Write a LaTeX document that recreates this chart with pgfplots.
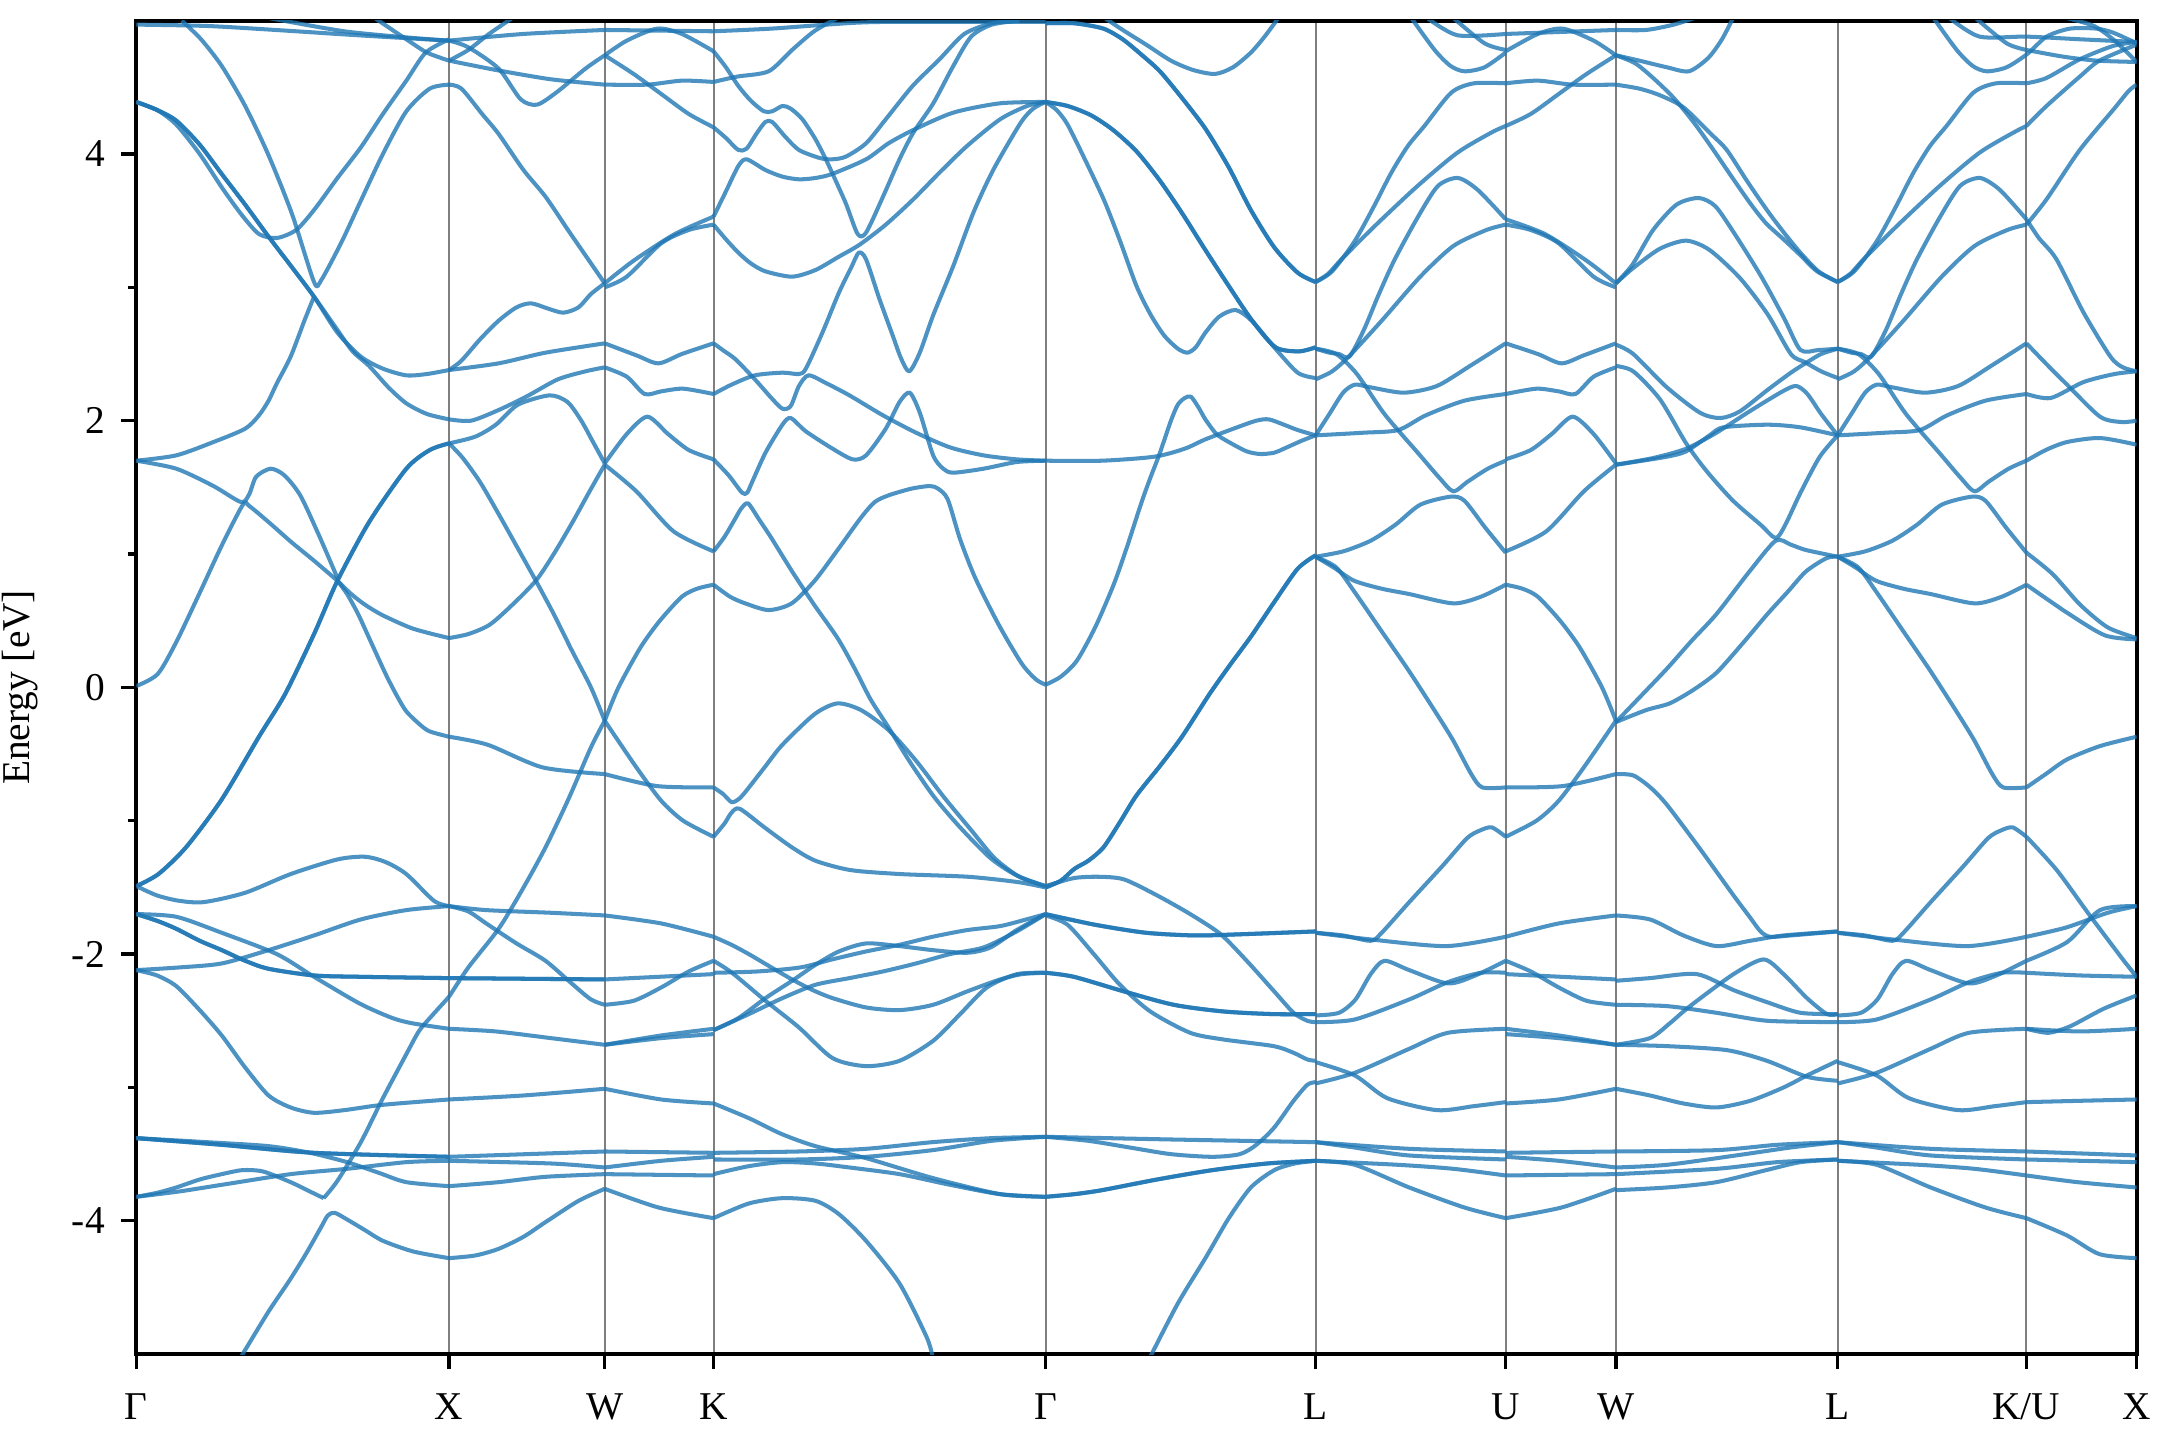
\documentclass[border=0pt]{standalone}
\usepackage{pgfplots}
\pgfplotsset{compat=1.18}
\usepackage{fontspec}
\setmainfont{Liberation Serif}
\definecolor{tabblue}{RGB}{31,119,180}
\pgfplotsset{band/.style={tabblue, opacity=0.8, line width=0.85pt, smooth, tension=0.45, mark=none, line join=round}}
\begin{document}
\begin{tikzpicture}
\begin{axis}[name=ax, scale only axis, width=14.82cm, height=9.88cm,
  xmin=99, xmax=1551, ymin=-5, ymax=5,
  xtick={99,326,439,518,759,955,1093,1173,1334,1471,1551},
  xticklabels={Γ,X,W,K,Γ,L,U,W,L,K/U,X},
  ytick={-4,-2,0,2,4}, yticklabels={-4,-2,0,2,4},
  minor ytick={-3,-1,1,3},
  xmajorgrids, major grid style={black, opacity=0.5, line width=0.4pt},
  tick align=outside, tick pos=left,
  major tick length=0.11cm, minor tick length=0.065cm,
  every tick/.style={black, line width=0.7pt},
  axis line style={line width=0.85pt},
  tick label style={font=\fontsize{8.3}{10}\selectfont},
  xticklabel style={yshift=-0.06cm},
  ylabel={Energy [eV]},
  ylabel style={font=\fontsize{8.3}{10}\selectfont, at={(axis description cs:-0.058,0.5)}, anchor=center, rotate=0},
  clip=true]
% ---------------- Gamma - X ----------------
\addplot[band] coordinates {(99,4.97) (150,4.96) (200,4.93) (260,4.89) (326,4.85)};
\addplot[band] coordinates {(195,5.02) (250,4.92) (300,4.87) (326,4.85)};
\addplot[band] coordinates {(272,5.02) (295,4.86) (310,4.76) (326,4.70)};
\addplot[band] coordinates {(132,5.0) (146,4.86) (161,4.66) (178,4.36) (195,3.99) (212,3.55) (228,3.04) (233,3.05) (248,3.34) (262,3.65) (278,4.0) (295,4.32) (312,4.49) (326,4.52)};
\addplot[band] coordinates {(99,4.39) (114,4.33) (128,4.22) (145,4.0) (161,3.75) (175,3.55) (188,3.40) (201,3.37) (215,3.43) (228,3.58) (245,3.82) (262,4.05) (278,4.30) (295,4.55) (309,4.76) (326,4.86)};
\addplot[band] coordinates {(99,4.39) (114,4.33) (128,4.25) (145,4.07) (161,3.85) (178,3.62) (195,3.38) (212,3.15) (228,2.93) (245,2.66) (262,2.48) (278,2.39) (295,2.34) (310,2.35) (326,2.38)};
\addplot[band] coordinates {(99,4.39) (114,4.33) (128,4.25) (145,4.07) (161,3.85) (178,3.62) (195,3.38) (212,3.15) (228,2.93) (245,2.68) (256,2.52) (268,2.41) (282,2.25) (295,2.13) (310,2.05) (326,2.01)};
\addplot[band] coordinates {(99,1.70) (128,1.74) (155,1.84) (178,1.94) (188,2.04) (195,2.15) (201,2.28) (211,2.48) (221,2.75) (228,2.93)};
\addplot[band] coordinates {(99,1.70) (128,1.64) (155,1.51) (175,1.39) (181,1.45) (186,1.58) (196.5,1.64) (206.5,1.59) (218,1.44) (231.6,1.14) (245,0.82)};
\addplot[band] coordinates {(99,0.01) (114.5,0.10) (128,0.34) (144.6,0.70) (161.3,1.07) (176.4,1.37) (181,1.36) (195,1.24) (211.5,1.09) (228,0.95) (245,0.80)};
\addplot[band] coordinates {(99,-1.49) (115,-1.40) (135,-1.20) (161,-0.84) (188,-0.37) (207,-0.05) (228,0.40) (245,0.80) (268,1.24) (295,1.64) (312,1.78) (326,1.83)};
\addplot[band] coordinates {(99,-1.49) (115,-1.40) (135,-1.20) (161,-0.84) (188,-0.37) (207,-0.05) (228,0.40) (245,0.80) (268,1.24) (295,1.64) (312,1.78) (326,1.83)};
\addplot[band] coordinates {(245,0.80) (252,0.70) (260,0.55) (268,0.37) (280,0.10) (288,-0.06) (295,-0.18) (305,-0.28) (312,-0.33) (326,-0.37)};
\addplot[band] coordinates {(245,0.80) (255,0.70) (265,0.62) (278,0.54) (300,0.44) (326,0.37)};
\addplot[band] coordinates {(99,-1.49) (114,-1.56) (130,-1.60) (148,-1.61) (178,-1.54) (211,-1.40) (245,-1.29) (265,-1.27) (280,-1.31) (295,-1.40) (315,-1.60) (326,-1.64)};
\addplot[band] coordinates {(99,-2.12) (130,-2.10) (161,-2.07) (195,-1.97) (228,-1.86) (262,-1.74) (295,-1.67) (326,-1.64)};
\addplot[band] coordinates {(99,-1.70) (114,-1.75) (128,-1.81) (145,-1.90) (161,-1.97) (178,-2.05) (195,-2.11) (228,-2.16) (261,-2.17) (326,-2.18)};
\addplot[band] coordinates {(99,-1.70) (114,-1.75) (128,-1.81) (145,-1.90) (161,-1.97) (178,-2.05) (195,-2.11) (228,-2.16) (261,-2.17) (326,-2.18)};
\addplot[band] coordinates {(99,-1.70) (128,-1.72) (161,-1.84) (201,-2.00) (228,-2.17) (261,-2.37) (285,-2.48) (300,-2.52) (326,-2.56)};
\addplot[band] coordinates {(99,-2.12) (114,-2.16) (128,-2.24) (145,-2.42) (161,-2.61) (178,-2.85) (195,-3.06) (211,-3.15) (228,-3.19) (250,-3.17) (278,-3.13) (326,-3.09)};
\addplot[band] coordinates {(235,-3.83) (245,-3.70) (262,-3.41) (278,-3.08) (295,-2.75) (304,-2.58) (312,-2.48) (326,-2.32)};
\addplot[band] coordinates {(175,-5.02) (195,-4.68) (210,-4.45) (222,-4.25) (233,-4.05) (238,-3.96) (243,-3.94) (252,-3.99) (265,-4.07) (278,-4.15) (300,-4.23) (326,-4.28)};
\addplot[band] coordinates {(99,-3.82) (114,-3.79) (128,-3.75) (145,-3.69) (161,-3.65) (176,-3.62) (191,-3.63) (211,-3.71) (225,-3.78) (235,-3.83)};
\addplot[band] coordinates {(99,-3.82) (130,-3.78) (161,-3.73) (211,-3.65) (252,-3.61) (295,-3.56) (326,-3.55)};
\addplot[band] coordinates {(99,-3.38) (161,-3.43) (228,-3.49) (326,-3.52)};
\addplot[band] coordinates {(99,-3.38) (161,-3.43) (228,-3.49) (326,-3.52)};
\addplot[band] coordinates {(99,-3.38) (150,-3.41) (195,-3.44) (225,-3.49) (252,-3.56) (275,-3.64) (295,-3.71) (326,-3.74)};
% ---------------- X - W ----------------
\addplot[band] coordinates {(326,4.70) (340,4.78) (355,4.90) (372,5.02)};
\addplot[band] coordinates {(326,4.85) (340,4.80) (362,4.64) (378,4.41) (390,4.37) (405,4.47) (425,4.64) (439,4.74)};
\addplot[band] coordinates {(326,4.70) (360,4.63) (400,4.56) (439,4.52)};
\addplot[band] coordinates {(326,4.85) (380,4.90) (439,4.93)};
\addplot[band] coordinates {(326,4.52) (335,4.49) (350,4.30) (362,4.15) (380,3.88) (396,3.68) (413,3.42) (429,3.18) (439,3.03)};
\addplot[band] coordinates {(326,2.38) (362,2.43) (396,2.51) (439,2.58)};
\addplot[band] coordinates {(326,2.38) (335,2.45) (348.5,2.61) (362,2.75) (375,2.85) (385.5,2.88) (398,2.84) (409,2.81) (420,2.85) (429,2.95) (439,3.03)};
\addplot[band] coordinates {(326,2.01) (342,2.00) (362,2.08) (382,2.18) (405,2.31) (425,2.37) (439,2.40)};
\addplot[band] coordinates {(326,1.83) (345,1.88) (360,1.97) (376,2.12) (399,2.19) (412,2.14) (422,2.00) (430,1.85) (439,1.68)};
\addplot[band] coordinates {(326,0.37) (340,0.40) (355.5,0.47) (372,0.62) (389,0.80) (402,1.0) (415.7,1.24) (428,1.47) (439,1.67)};
\addplot[band] coordinates {(326,1.83) (336,1.72) (348.5,1.54) (362,1.30) (375,1.06) (389,0.80) (402,0.55) (415,0.28) (429,0.0) (439,-0.25)};
\addplot[band] coordinates {(326,-0.37) (354,-0.43) (394,-0.60) (439,-0.65)};
\addplot[band] coordinates {(326,-1.64) (353,-1.67) (400,-1.69) (439,-1.71)};
\addplot[band] coordinates {(326,-1.64) (340,-1.68) (353,-1.77) (375,-1.92) (396,-2.05) (415,-2.22) (429,-2.34) (439,-2.38)};
\addplot[band] coordinates {(326,-2.18) (439,-2.19)};
\addplot[band] coordinates {(326,-2.18) (439,-2.19)};
\addplot[band] coordinates {(326,-2.32) (340,-2.10) (362,-1.81) (379,-1.52) (396,-1.20) (413,-0.83) (429,-0.45) (439,-0.25)};
\addplot[band] coordinates {(326,-2.56) (360,-2.58) (400,-2.63) (439,-2.68)};
\addplot[band] coordinates {(326,-3.09) (380,-3.06) (439,-3.01)};
\addplot[band] coordinates {(326,-3.52) (439,-3.48)};
\addplot[band] coordinates {(326,-3.55) (400,-3.57) (439,-3.60)};
\addplot[band] coordinates {(326,-3.74) (362,-3.71) (396,-3.67) (439,-3.65)};
\addplot[band] coordinates {(326,-4.28) (345,-4.26) (362,-4.21) (380,-4.12) (396,-4.01) (420,-3.85) (439,-3.76)};
% ---------------- W - K ----------------
\addplot[band] coordinates {(439,4.74) (455,4.85) (477,4.94) (495,4.90) (518,4.77)};
\addplot[band] coordinates {(439,4.52) (470,4.52) (495,4.55) (518,4.54)};
\addplot[band] coordinates {(439,4.74) (460,4.60) (480,4.45) (500,4.30) (518,4.20)};
\addplot[band] coordinates {(439,4.93) (518,4.92)};
\addplot[band] coordinates {(439,3.03) (460,3.20) (490,3.40) (518,3.53)};
\addplot[band] coordinates {(439,3.00) (455,3.08) (480,3.33) (500,3.43) (518,3.47)};
\addplot[band] coordinates {(439,2.58) (462,2.49) (478,2.43) (495,2.50) (518,2.58)};
\addplot[band] coordinates {(439,2.40) (455,2.33) (468,2.20) (480,2.22) (496,2.24) (518,2.20)};
\addplot[band] coordinates {(439,1.68) (455,1.90) (470,2.03) (485,1.90) (500,1.78) (518,1.71)};
\addplot[band] coordinates {(439,1.67) (462,1.47) (489,1.17) (518,1.02)};
\addplot[band] coordinates {(439,-0.25) (449,0.0) (465,0.30) (479,0.50) (495,0.68) (506,0.74) (518,0.77)};
\addplot[band] coordinates {(439,-0.25) (462,-0.60) (480,-0.85) (496,-1.0) (518,-1.12)};
\addplot[band] coordinates {(439,-0.65) (477,-0.74) (518,-0.75)};
\addplot[band] coordinates {(439,-1.71) (480,-1.77) (518,-1.87)};
\addplot[band] coordinates {(439,-2.38) (460,-2.35) (480,-2.25) (500,-2.13) (518,-2.05)};
\addplot[band] coordinates {(439,-2.19) (518,-2.15)};
\addplot[band] coordinates {(439,-2.68) (480,-2.61) (518,-2.56)};
\addplot[band] coordinates {(439,-2.68) (480,-2.63) (518,-2.60)};
\addplot[band] coordinates {(439,-3.01) (480,-3.09) (518,-3.12)};
\addplot[band] coordinates {(439,-3.48) (518,-3.49)};
\addplot[band] coordinates {(439,-3.60) (480,-3.55) (518,-3.52)};
\addplot[band] coordinates {(439,-3.65) (518,-3.66)};
\addplot[band] coordinates {(439,-3.76) (478,-3.90) (518,-3.98)};
% ---------------- K - Gamma ----------------
\addplot[band] coordinates {(518,4.92) (560,4.94) (600,4.97) (640,4.99) (759,4.99)};
\addplot[band] coordinates {(518,4.77) (527,4.65) (536,4.51) (545,4.40) (554.5,4.32) (560.6,4.32) (568,4.36) (574,4.34) (582.5,4.26) (592,4.11) (599.5,3.96) (604,3.86) (614,3.63) (622.6,3.40) (628.7,3.41) (641,3.68) (653,3.96) (663,4.16) (677.5,4.38) (692,4.66) (705,4.88) (720,4.97) (740,5.0)};
\addplot[band] coordinates {(518,4.54) (535,4.58) (558,4.62) (575,4.78) (591,4.92) (608,5.02)};
\addplot[band] coordinates {(518,4.20) (527,4.12) (536,4.03) (542,4.04) (549,4.15) (555.6,4.24) (560.6,4.24) (570,4.13) (580,4.03) (595,3.97) (604,3.96) (614,3.98) (628.7,4.08) (643,4.26) (662.5,4.51) (682,4.71) (700,4.90) (720,4.98) (740,5.0)};
\addplot[band] coordinates {(518,3.53) (527,3.72) (536,3.91) (542,3.96) (555.6,3.88) (568,3.83) (580,3.81) (592,3.82) (604,3.85) (628.7,3.96) (645,4.08) (663,4.18) (692,4.31) (726,4.38) (759,4.39)};
\addplot[band] coordinates {(518,3.47) (527,3.36) (536,3.26) (545,3.18) (555.6,3.12) (575,3.08) (592,3.13) (609,3.23) (624,3.32) (643,3.47) (663,3.66) (682,3.86) (702,4.06) (726,4.26) (745.6,4.36) (759,4.39)};
\addplot[band] coordinates {(518,2.58) (526,2.52) (534,2.46) (548,2.31) (560,2.17) (568,2.09) (574,2.11) (580,2.26) (587,2.34) (600,2.28) (616.6,2.19) (641,2.04) (665,1.91) (689.6,1.80) (714,1.74) (738,1.71) (759,1.70)};
\addplot[band] coordinates {(518,2.20) (531,2.27) (548,2.34) (568,2.36) (580,2.35) (585,2.39) (597,2.66) (609,2.96) (618,3.15) (623.4,3.26) (628.7,3.21) (638.5,2.91) (648,2.64) (654,2.47) (660,2.37) (667.7,2.51) (677.4,2.79) (692,3.16) (706.6,3.56) (721,3.88) (740.7,4.23) (750,4.34) (759,4.39)};
\addplot[band] coordinates {(518,1.71) (529,1.59) (538.7,1.46) (542.4,1.46) (546,1.54) (555.7,1.76) (568,1.97) (574,2.02) (585,1.92) (604.4,1.79) (619,1.71) (628.7,1.74) (643,1.94) (653,2.14) (660.4,2.21) (667.7,2.06) (677.4,1.74) (684.7,1.64) (692,1.61) (714,1.64) (738,1.69) (759,1.70)};
\addplot[band] coordinates {(518,1.02) (526,1.13) (534,1.27) (538,1.34) (543,1.38) (551,1.26) (560,1.12) (575,0.87) (591,0.62) (608,0.37) (620,0.15) (632,-0.09) (645,-0.30) (660,-0.55) (678,-0.82) (697,-1.05) (719,-1.28) (738,-1.41) (759,-1.49)};
\addplot[band] coordinates {(518,0.77) (530,0.68) (541,0.63) (558,0.58) (574.7,0.63) (591.4,0.80) (608,1.03) (624.8,1.27) (635,1.39) (645,1.44) (661.5,1.49) (675,1.51) (681,1.49) (688,1.41) (697,1.11) (708,0.82) (725,0.47) (741.6,0.18) (752,0.06) (759,0.02)};
\addplot[band] coordinates {(518,-0.75) (525,-0.80) (531,-0.86) (536,-0.84) (541.4,-0.78) (555,-0.60) (568,-0.43) (591.4,-0.20) (608,-0.12) (625,-0.17) (645,-0.32) (665,-0.55) (685,-0.82) (705,-1.07) (722,-1.28) (740,-1.42) (759,-1.49)};
\addplot[band] coordinates {(518,-1.12) (526,-1.02) (531,-0.94) (537,-0.91) (555,-1.05) (575,-1.20) (592,-1.30) (617.5,-1.37) (654,-1.40) (702.7,-1.42) (739,-1.46) (759,-1.50)};
\addplot[band] coordinates {(518,-1.87) (531,-1.93) (543.6,-2.00) (560,-2.10) (575,-2.19) (590,-2.27) (604.4,-2.33) (628.7,-2.40) (653,-2.42) (677.4,-2.38) (702,-2.28) (726,-2.19) (742,-2.15) (759,-2.14)};
\addplot[band] coordinates {(518,-2.05) (531.4,-2.14) (555.7,-2.35) (580,-2.55) (604.4,-2.78) (628.7,-2.84) (653,-2.80) (677.4,-2.65) (697,-2.45) (716.4,-2.25) (738.3,-2.15) (759,-2.14)};
\addplot[band] coordinates {(518,-2.14) (550,-2.13) (581,-2.10) (604,-2.04) (628.7,-1.98) (653,-1.93) (677,-1.87) (702,-1.82) (726,-1.79) (745,-1.74) (759,-1.70)};
\addplot[band] coordinates {(518,-2.57) (543.6,-2.45) (568,-2.33) (592,-2.23) (616.6,-2.18) (641,-2.13) (665,-2.07) (689.6,-2.00) (714,-1.95) (738,-1.83) (759,-1.70)};
\addplot[band] coordinates {(518,-2.57) (536,-2.48) (555.7,-2.33) (575,-2.20) (592,-2.08) (609,-1.98) (628.7,-1.92) (653,-1.94) (677,-1.97) (702,-1.99) (719,-1.95) (738,-1.82) (759,-1.70)};
\addplot[band] coordinates {(518,-3.12) (543.6,-3.23) (567.6,-3.35) (592,-3.44) (628.7,-3.53) (677.4,-3.68) (726,-3.80) (759,-3.82)};
\addplot[band] coordinates {(518,-3.49) (580,-3.48) (628.7,-3.46) (677,-3.41) (720,-3.38) (759,-3.37)};
\addplot[band] coordinates {(518,-3.54) (580,-3.54) (628.7,-3.52) (677,-3.47) (720,-3.40) (759,-3.37)};
\addplot[band] coordinates {(518,-3.65) (543.6,-3.59) (568,-3.56) (592,-3.57) (616.6,-3.60) (653,-3.65) (689.6,-3.73) (726,-3.80) (759,-3.82)};
\addplot[band] coordinates {(518,-3.98) (543.6,-3.87) (568,-3.83) (592,-3.85) (609,-3.95) (628.7,-4.15) (653,-4.47) (672.6,-4.87) (677,-5.02)};
% ---------------- Gamma - L ----------------
\addplot[band] coordinates {(759,4.98) (780,4.98) (801,4.94) (815,4.86) (828,4.75) (842,4.62) (858,4.42) (875,4.19) (892,3.90) (908,3.58) (925,3.30) (942,3.11) (955,3.04)};
\addplot[band] coordinates {(759,4.98) (780,4.98) (801,4.94) (815,4.86) (828,4.75) (842,4.62) (858,4.42) (875,4.19) (892,3.90) (908,3.58) (925,3.30) (942,3.11) (955,3.04)};
\addplot[band] coordinates {(759,4.39) (775,4.36) (792,4.29) (808,4.18) (825,4.02) (842,3.80) (858.5,3.55) (875,3.28) (892,3.01) (909,2.75) (926,2.55) (943,2.52) (955,2.55)};
\addplot[band] coordinates {(759,4.39) (775,4.36) (792,4.29) (808,4.18) (825,4.02) (842,3.80) (858.5,3.55) (875,3.28) (892,3.01) (909,2.75) (926,2.55) (943,2.52) (955,2.55)};
\addplot[band] coordinates {(759,4.39) (767,4.33) (775,4.22) (788,3.95) (801.6,3.65) (813,3.35) (825,3.01) (835,2.80) (845,2.64) (855,2.54) (862,2.51) (868,2.55) (875,2.66) (885,2.78) (897,2.83) (908.6,2.75) (925,2.55) (942,2.36) (955,2.32)};
\addplot[band] coordinates {(802,5.02) (815,4.93) (832,4.82) (850,4.70) (866,4.63) (882,4.60) (895,4.65) (908,4.76) (918,4.88) (928,5.02)};
\addplot[band] coordinates {(759,0.02) (770,0.08) (781.7,0.20) (795,0.45) (808.4,0.77) (818,1.05) (828.4,1.38) (835,1.57) (841.7,1.75) (850,2.0) (855,2.12) (860,2.17) (864.5,2.18) (870,2.10) (875,2.01) (883,1.90) (892,1.84) (905,1.77) (915,1.75) (925,1.76) (932,1.79) (945,1.85) (955,1.89)};
\addplot[band] coordinates {(759,1.70) (800,1.70) (838,1.73) (860,1.79) (875,1.86) (898,1.95) (912,2.0) (921,2.01) (932,1.97) (942,1.93) (955,1.89)};
\addplot[band] coordinates {(759,-1.50) (770,-1.45) (780,-1.36) (790,-1.30) (801,-1.20) (813,-1.01) (825,-0.81) (842,-0.59) (858,-0.37) (878,-0.05) (893,0.17) (908,0.38) (925,0.64) (942,0.89) (955,0.99)};
\addplot[band] coordinates {(759,-1.50) (770,-1.45) (780,-1.36) (790,-1.30) (801,-1.20) (813,-1.01) (825,-0.81) (842,-0.59) (858,-0.37) (878,-0.05) (893,0.17) (908,0.38) (925,0.64) (942,0.89) (955,0.99)};
\addplot[band] coordinates {(759,-1.49) (779.5,-1.43) (797.7,-1.42) (816,-1.44) (840,-1.56) (864,-1.70) (886,-1.85) (905,-2.05) (925,-2.28) (939,-2.44) (949,-2.50) (955,-2.51)};
\addplot[band] coordinates {(759,-1.71) (775,-1.78) (794,-2.00) (813,-2.23) (835,-2.43) (864,-2.59) (888,-2.64) (924.5,-2.69) (939,-2.74) (949,-2.79) (955,-2.80)};
\addplot[band] coordinates {(759,-2.14) (779.5,-2.17) (816,-2.28) (852,-2.38) (888,-2.43) (924.5,-2.45) (955,-2.45)};
\addplot[band] coordinates {(759,-2.14) (779.5,-2.17) (816,-2.28) (852,-2.38) (888,-2.43) (924.5,-2.45) (955,-2.45)};
\addplot[band] coordinates {(759,-1.70) (795,-1.78) (832,-1.84) (868,-1.86) (904,-1.85) (955,-1.83)};
\addplot[band] coordinates {(759,-1.70) (795,-1.78) (832,-1.84) (868,-1.86) (904,-1.85) (955,-1.83)};
\addplot[band] coordinates {(759,-3.37) (790,-3.40) (820,-3.45) (850,-3.50) (880,-3.52) (900,-3.50) (912,-3.43) (925,-3.30) (939,-3.10) (949,-2.98) (955,-2.96)};
\addplot[band] coordinates {(759,-3.37) (850,-3.39) (955,-3.41)};
\addplot[band] coordinates {(759,-3.82) (780,-3.80) (800,-3.77) (840,-3.69) (880,-3.62) (920,-3.57) (955,-3.55)};
\addplot[band] coordinates {(759,-3.82) (780,-3.80) (800,-3.77) (840,-3.69) (880,-3.62) (920,-3.57) (955,-3.55)};
\addplot[band] coordinates {(835,-5.02) (855,-4.62) (875,-4.28) (892,-3.98) (908,-3.75) (925,-3.62) (940,-3.57) (955,-3.55)};
% ---------------- L - U ----------------
\addplot[band] coordinates {(955,3.04) (967,3.12) (983,3.34) (997,3.60) (1010,3.86) (1022,4.06) (1034,4.21) (1053.5,4.46) (1070,4.53) (1093,4.53)};
\addplot[band] coordinates {(955,3.04) (964,3.10) (973.8,3.21) (998,3.46) (1029,3.76) (1058,4.01) (1082.5,4.16) (1093,4.21)};
\addplot[band] coordinates {(955,2.54) (965,2.51) (972,2.50) (979.5,2.48) (990,2.68) (1001,2.95) (1012.5,3.21) (1029.4,3.53) (1043.8,3.76) (1058.3,3.82) (1072.8,3.73) (1093,3.51)};
\addplot[band] coordinates {(955,2.31) (967,2.37) (979,2.48) (1003,2.75) (1031,3.08) (1055,3.31) (1079,3.43) (1093,3.47)};
\addplot[band] coordinates {(955,2.54) (970,2.50) (985,2.35) (1005,2.05) (1030,1.75) (1045,1.57) (1055,1.47) (1065,1.54) (1080,1.64) (1093,1.70)};
\addplot[band] coordinates {(955,1.89) (965,2.05) (975,2.21) (983.5,2.27) (995,2.25) (1019,2.21) (1043,2.26) (1067,2.41) (1093,2.58)};
\addplot[band] coordinates {(955,1.89) (990,1.91) (1015,1.93) (1035,2.04) (1063,2.15) (1093,2.20)};
\addplot[band] coordinates {(955,0.98) (975,1.02) (995,1.10) (1013,1.22) (1031,1.37) (1053,1.43) (1063,1.40) (1078,1.20) (1093,1.01)};
\addplot[band] coordinates {(955,0.98) (968,0.90) (983,0.80) (1003,0.74) (1023,0.70) (1055,0.63) (1075,0.68) (1093,0.77)};
\addplot[band] coordinates {(955,0.98) (970,0.90) (983,0.72) (1003,0.42) (1023,0.12) (1043,-0.20) (1055,-0.40) (1068,-0.65) (1076,-0.75) (1093,-0.75)};
\addplot[band] coordinates {(955,-1.84) (995,-1.89) (1050,-1.94) (1093,-1.87)};
\addplot[band] coordinates {(955,-1.84) (975,-1.86) (995,-1.90) (1003,-1.84) (1023,-1.61) (1047,-1.34) (1065,-1.13) (1075,-1.07) (1083,-1.05) (1093,-1.12)};
\addplot[band] coordinates {(955,-2.46) (972,-2.44) (984,-2.34) (995,-2.15) (1005,-2.05) (1023,-2.12) (1051,-2.22) (1071,-2.16) (1093,-2.05)};
\addplot[band] coordinates {(955,-2.51) (983.5,-2.49) (1023,-2.34) (1051,-2.21) (1075,-2.14) (1093,-2.14)};
\addplot[band] coordinates {(955,-2.81) (983.5,-2.91) (1007,-3.08) (1043,-3.17) (1070,-3.14) (1093,-3.11)};
\addplot[band] coordinates {(955,-2.97) (983.5,-2.89) (1023,-2.71) (1051,-2.59) (1093,-2.56)};
\addplot[band] coordinates {(955,-3.41) (1023,-3.46) (1093,-3.48)};
\addplot[band] coordinates {(955,-3.41) (983,-3.45) (1023,-3.51) (1093,-3.54)};
\addplot[band] coordinates {(955,-3.55) (1015,-3.58) (1055,-3.61) (1093,-3.66)};
\addplot[band] coordinates {(955,-3.55) (983.5,-3.58) (1023,-3.75) (1063,-3.90) (1093,-3.98)};
\addplot[band] coordinates {(1024.5,5.02) (1041.4,4.78) (1053,4.66) (1063.2,4.62) (1077.6,4.65) (1093,4.76)};
\addplot[band] coordinates {(1055,5.02) (1077.6,4.83) (1093,4.78)};
\addplot[band] coordinates {(1036,5.02) (1058,4.89) (1093,4.90)};
% ---------------- U - W ----------------
\addplot[band] coordinates {(1093,4.77) (1116.3,4.90) (1134.5,4.94) (1156.8,4.85) (1173,4.74)};
\addplot[band] coordinates {(1093,4.53) (1116.3,4.55) (1141.6,4.52) (1173,4.52)};
\addplot[band] coordinates {(1093,4.21) (1111.2,4.30) (1131.5,4.45) (1151.7,4.60) (1173,4.74)};
\addplot[band] coordinates {(1093,4.90) (1173,4.93)};
\addplot[band] coordinates {(1093,3.51) (1121.4,3.40) (1151.7,3.20) (1173,3.03)};
\addplot[band] coordinates {(1093,3.47) (1111.2,3.43) (1131.5,3.33) (1156.8,3.08) (1173,3.00)};
\addplot[band] coordinates {(1093,2.58) (1116.3,2.50) (1133.5,2.43) (1149.7,2.49) (1173,2.58)};
\addplot[band] coordinates {(1093,2.20) (1115.3,2.24) (1131.5,2.22) (1143.6,2.20) (1156.8,2.33) (1173,2.40)};
\addplot[band] coordinates {(1093,1.71) (1111.2,1.78) (1126.4,1.90) (1141.6,2.03) (1156.8,1.90) (1173,1.68)};
\addplot[band] coordinates {(1093,1.02) (1122.4,1.17) (1149.7,1.47) (1173,1.67)};
\addplot[band] coordinates {(1093,0.77) (1105.2,0.74) (1116.3,0.68) (1132.5,0.50) (1146.7,0.30) (1162.9,0.0) (1173,-0.25)};
\addplot[band] coordinates {(1093,-1.12) (1115.3,-1.0) (1131.5,-0.85) (1149.7,-0.60) (1173,-0.25)};
\addplot[band] coordinates {(1093,-0.75) (1134.5,-0.74) (1173,-0.65)};
\addplot[band] coordinates {(1093,-1.87) (1131.5,-1.77) (1173,-1.71)};
\addplot[band] coordinates {(1093,-2.05) (1111.2,-2.13) (1131.5,-2.25) (1151.7,-2.35) (1173,-2.38)};
\addplot[band] coordinates {(1093,-2.15) (1173,-2.19)};
\addplot[band] coordinates {(1093,-2.56) (1131.5,-2.61) (1173,-2.68)};
\addplot[band] coordinates {(1093,-2.60) (1131.5,-2.63) (1173,-2.68)};
\addplot[band] coordinates {(1093,-3.12) (1131.5,-3.09) (1173,-3.01)};
\addplot[band] coordinates {(1093,-3.49) (1173,-3.48)};
\addplot[band] coordinates {(1093,-3.52) (1131.5,-3.55) (1173,-3.60)};
\addplot[band] coordinates {(1093,-3.66) (1173,-3.65)};
\addplot[band] coordinates {(1093,-3.98) (1133.5,-3.90) (1173,-3.76)};
% ---------------- W - L ----------------
\addplot[band] coordinates {(1173,4.52) (1190,4.49) (1205,4.44) (1222,4.35) (1242,4.15) (1253.5,4.03) (1268,3.80) (1282.6,3.58) (1295,3.41) (1306.9,3.26) (1320,3.12) (1334,3.04)};
\addplot[band] coordinates {(1173,4.74) (1187,4.68) (1200,4.57) (1215,4.42) (1230,4.23) (1243.8,4.03) (1257,3.83) (1270.5,3.63) (1282,3.48) (1294.7,3.36) (1307,3.24) (1319,3.12) (1334,3.04)};
\addplot[band] coordinates {(1173,4.74) (1190,4.70) (1210,4.65) (1226,4.62) (1240,4.72) (1250,4.86) (1258,5.02)};
\addplot[band] coordinates {(1173,4.93) (1195,4.93) (1215,4.97) (1230,5.02)};
\addplot[band] coordinates {(1173,3.03) (1185,3.17) (1200,3.43) (1217,3.62) (1233,3.67) (1245,3.61) (1258,3.42) (1278,3.09) (1295,2.77) (1307,2.53) (1320,2.53) (1334,2.54)};
\addplot[band] coordinates {(1173,3.03) (1185,3.14) (1205,3.29) (1224,3.35) (1241,3.28) (1263,3.07) (1283,2.80) (1300,2.50) (1310,2.44) (1322,2.37) (1334,2.32)};
\addplot[band] coordinates {(1173,2.57) (1185.6,2.50) (1210,2.25) (1234,2.06) (1249,2.02) (1263,2.07) (1283,2.23) (1300,2.36) (1312,2.44) (1322,2.50) (1334,2.54)};
\addplot[band] coordinates {(1173,2.41) (1185.6,2.37) (1205,2.16) (1224,1.83) (1239,1.62) (1258,1.40) (1278,1.22) (1289,1.12) (1296,1.22) (1307,1.46) (1321,1.73) (1334,1.89)};
\addplot[band] coordinates {(1173,1.67) (1186,1.69) (1210,1.73) (1224,1.77) (1241,1.89) (1251,1.95) (1283,1.97) (1307,1.95) (1334,1.89)};
\addplot[band] coordinates {(1173,1.67) (1200,1.72) (1224,1.79) (1246,1.91) (1270,2.07) (1294,2.22) (1304,2.26) (1312,2.20) (1322,2.05) (1334,1.89)};
\addplot[band] coordinates {(1173,-0.26) (1186,-0.12) (1210,0.14) (1228,0.35) (1246,0.55) (1270,0.87) (1289,1.10) (1300,1.07) (1311,1.03) (1334,0.98)};
\addplot[band] coordinates {(1173,-0.26) (1195,-0.17) (1212,-0.12) (1229,-0.02) (1246,0.11) (1265,0.33) (1283,0.55) (1298,0.72) (1311,0.87) (1326,0.97) (1334,0.98)};
\addplot[band] coordinates {(1173,-0.65) (1185.6,-0.66) (1198,-0.75) (1210,-0.88) (1234,-1.21) (1258.4,-1.56) (1270,-1.72) (1278,-1.83) (1285,-1.87) (1300,-1.86) (1334,-1.83)};
\addplot[band] coordinates {(1173,-1.71) (1197.7,-1.74) (1222,-1.86) (1246,-1.94) (1270.5,-1.90) (1294.7,-1.86) (1334,-1.83)};
\addplot[band] coordinates {(1173,-2.20) (1197.7,-2.18) (1231.7,-2.15) (1258.4,-2.27) (1282.6,-2.36) (1306.9,-2.44) (1334,-2.45)};
\addplot[band] coordinates {(1173,-2.38) (1210,-2.39) (1246,-2.44) (1283,-2.50) (1334,-2.51)};
\addplot[band] coordinates {(1173,-2.68) (1197.7,-2.63) (1212,-2.52) (1226.8,-2.39) (1258.4,-2.15) (1280.2,-2.04) (1294.7,-2.15) (1311.7,-2.33) (1326.2,-2.45) (1334,-2.45)};
\addplot[band] coordinates {(1173,-2.68) (1210,-2.69) (1253.5,-2.72) (1282.6,-2.80) (1311.7,-2.92) (1334,-2.95)};
\addplot[band] coordinates {(1173,-3.01) (1197.7,-3.06) (1222,-3.12) (1246,-3.15) (1270.5,-3.10) (1294.7,-3.00) (1311.7,-2.91) (1334,-2.80)};
\addplot[band] coordinates {(1173,-3.48) (1246,-3.47) (1290,-3.43) (1334,-3.41)};
\addplot[band] coordinates {(1173,-3.60) (1210,-3.58) (1260,-3.51) (1300,-3.45) (1334,-3.41)};
\addplot[band] coordinates {(1173,-3.65) (1246,-3.61) (1290,-3.56) (1334,-3.54)};
\addplot[band] coordinates {(1173,-3.77) (1210,-3.75) (1246,-3.71) (1282,-3.62) (1307,-3.56) (1334,-3.54)};
% ---------------- L - K/U ----------------
\addplot[band] coordinates {(1334,3.04) (1346,3.12) (1362,3.34) (1376,3.60) (1389,3.86) (1401,4.06) (1413,4.21) (1432.5,4.46) (1449,4.53) (1471,4.53)};
\addplot[band] coordinates {(1334,3.04) (1343,3.10) (1352.8,3.21) (1377,3.46) (1408,3.76) (1437,4.01) (1461.5,4.16) (1471,4.21)};
\addplot[band] coordinates {(1334,2.54) (1343.9,2.51) (1350.9,2.50) (1358.3,2.48) (1369,2.68) (1380,2.95) (1391.5,3.21) (1408.4,3.53) (1422.8,3.76) (1437.3,3.82) (1451.8,3.73) (1471,3.51)};
\addplot[band] coordinates {(1334,2.31) (1345.9,2.37) (1357.8,2.48) (1381.7,2.75) (1409.5,3.08) (1433.3,3.31) (1457.1,3.43) (1471,3.47)};
\addplot[band] coordinates {(1334,2.54) (1348.9,2.50) (1363.8,2.35) (1383.6,2.05) (1408.5,1.75) (1423.4,1.57) (1433.3,1.47) (1443.2,1.54) (1458.1,1.64) (1471,1.70)};
\addplot[band] coordinates {(1334,1.89) (1343.9,2.05) (1353.9,2.21) (1362.3,2.27) (1373.7,2.25) (1397.5,2.21) (1421.4,2.26) (1445.2,2.41) (1471,2.58)};
\addplot[band] coordinates {(1334,1.89) (1368.7,1.91) (1393.6,1.93) (1413.4,2.04) (1441.2,2.15) (1471,2.20)};
\addplot[band] coordinates {(1334,0.98) (1353.9,1.02) (1373.7,1.10) (1391.6,1.22) (1409.5,1.37) (1431.3,1.43) (1441.2,1.40) (1456.1,1.20) (1471,1.01)};
\addplot[band] coordinates {(1334,0.98) (1346.9,0.90) (1361.8,0.80) (1381.7,0.74) (1401.5,0.70) (1433.3,0.63) (1453.1,0.68) (1471,0.77)};
\addplot[band] coordinates {(1334,0.98) (1348.9,0.90) (1361.8,0.72) (1381.7,0.42) (1401.5,0.12) (1421.4,-0.20) (1433.3,-0.40) (1446.2,-0.65) (1454.1,-0.75) (1471,-0.75)};
\addplot[band] coordinates {(1334,-1.84) (1373.7,-1.89) (1428.3,-1.94) (1471,-1.87)};
\addplot[band] coordinates {(1334,-1.84) (1353.9,-1.86) (1373.7,-1.90) (1381.7,-1.84) (1401.5,-1.61) (1425.3,-1.34) (1443.2,-1.13) (1453.1,-1.07) (1461.1,-1.05) (1471,-1.12)};
\addplot[band] coordinates {(1334,-2.46) (1350.9,-2.44) (1362.8,-2.34) (1373.7,-2.15) (1383.6,-2.05) (1401.5,-2.12) (1429.3,-2.22) (1449.2,-2.16) (1471,-2.05)};
\addplot[band] coordinates {(1334,-2.51) (1362.3,-2.49) (1401.5,-2.34) (1429.3,-2.21) (1453.1,-2.14) (1471,-2.14)};
\addplot[band] coordinates {(1334,-2.81) (1362.3,-2.91) (1385.6,-3.08) (1421.4,-3.17) (1448.2,-3.14) (1471,-3.11)};
\addplot[band] coordinates {(1334,-2.97) (1362.3,-2.89) (1401.5,-2.71) (1429.3,-2.59) (1471,-2.56)};
\addplot[band] coordinates {(1334,-3.41) (1401.5,-3.46) (1471,-3.48)};
\addplot[band] coordinates {(1334,-3.41) (1361.8,-3.45) (1401.5,-3.51) (1471,-3.54)};
\addplot[band] coordinates {(1334,-3.55) (1393.6,-3.58) (1433.3,-3.61) (1471,-3.66)};
\addplot[band] coordinates {(1334,-3.55) (1362.3,-3.58) (1401.5,-3.75) (1441.2,-3.90) (1471,-3.98)};
\addplot[band] coordinates {(1403.5,5.02) (1420.4,4.78) (1432,4.66) (1442.2,4.62) (1456.6,4.65) (1471.6,4.75) (1485.6,4.88) (1502.5,4.94) (1521.8,4.94) (1533.9,4.91) (1551,4.83)};
\addplot[band] coordinates {(1434,5.02) (1456.6,4.83) (1471,4.78)};
\addplot[band] coordinates {(1415,5.02) (1437,4.88) (1471,4.88) (1510,4.86) (1551,4.84)};
% ---------------- K/U - X ----------------
\addplot[band] coordinates {(1471,4.21) (1485.6,4.36) (1509.7,4.58) (1524,4.70) (1551,4.82)};
\addplot[band] coordinates {(1500,5.02) (1520,4.96) (1535,4.85) (1551,4.69)};
\addplot[band] coordinates {(1471,4.78) (1497.6,4.73) (1521.8,4.70) (1551,4.69)};
\addplot[band] coordinates {(1471,4.53) (1485.6,4.57) (1509.7,4.71) (1533.9,4.81) (1551,4.84)};
\addplot[band] coordinates {(1471,3.47) (1485.6,3.66) (1509.7,4.03) (1533.9,4.33) (1545,4.47) (1551,4.52)};
\addplot[band] coordinates {(1471,3.51) (1480,3.37) (1492.8,3.21) (1512.5,2.81) (1532,2.48) (1541,2.40) (1551,2.37)};
\addplot[band] coordinates {(1471,2.58) (1485,2.43) (1500.5,2.27) (1524.4,2.03) (1540,1.99) (1551,2.0)};
\addplot[band] coordinates {(1471,2.20) (1488.6,2.17) (1512.5,2.29) (1535,2.35) (1551,2.37)};
\addplot[band] coordinates {(1471,1.70) (1485,1.78) (1500.5,1.84) (1524.4,1.87) (1551,1.82)};
\addplot[band] coordinates {(1471,0.77) (1500.5,0.56) (1528,0.39) (1551,0.36)};
\addplot[band] coordinates {(1471,1.01) (1490,0.85) (1510,0.62) (1530,0.45) (1551,0.37)};
\addplot[band] coordinates {(1471,-0.75) (1485,-0.65) (1500.5,-0.54) (1524.4,-0.44) (1551,-0.37)};
\addplot[band] coordinates {(1471,-1.12) (1493,-1.37) (1517,-1.71) (1541,-2.04) (1551,-2.17)};
\addplot[band] coordinates {(1471,-1.87) (1500,-1.80) (1530,-1.69) (1551,-1.64)};
\addplot[band] coordinates {(1471,-2.05) (1500.5,-1.91) (1524.4,-1.67) (1551,-1.64)};
\addplot[band] coordinates {(1471,-2.14) (1510,-2.16) (1551,-2.17)};
\addplot[band] coordinates {(1471,-2.56) (1487,-2.59) (1503,-2.54) (1527,-2.41) (1551,-2.31)};
\addplot[band] coordinates {(1471,-2.56) (1510,-2.58) (1551,-2.56)};
\addplot[band] coordinates {(1471,-3.11) (1510,-3.10) (1551,-3.09)};
\addplot[band] coordinates {(1471,-3.48) (1551,-3.51)};
\addplot[band] coordinates {(1471,-3.54) (1551,-3.56)};
\addplot[band] coordinates {(1471,-3.66) (1508,-3.71) (1551,-3.75)};
\addplot[band] coordinates {(1471,-3.98) (1500.5,-4.11) (1524,-4.25) (1551,-4.28)};
\end{axis}
\pgfresetboundingbox
\path ([xshift=-1.01cm,yshift=-0.633cm]ax.south west) rectangle ([xshift=0.173cm,yshift=0.153cm]ax.north east);
\end{tikzpicture}
\end{document}
